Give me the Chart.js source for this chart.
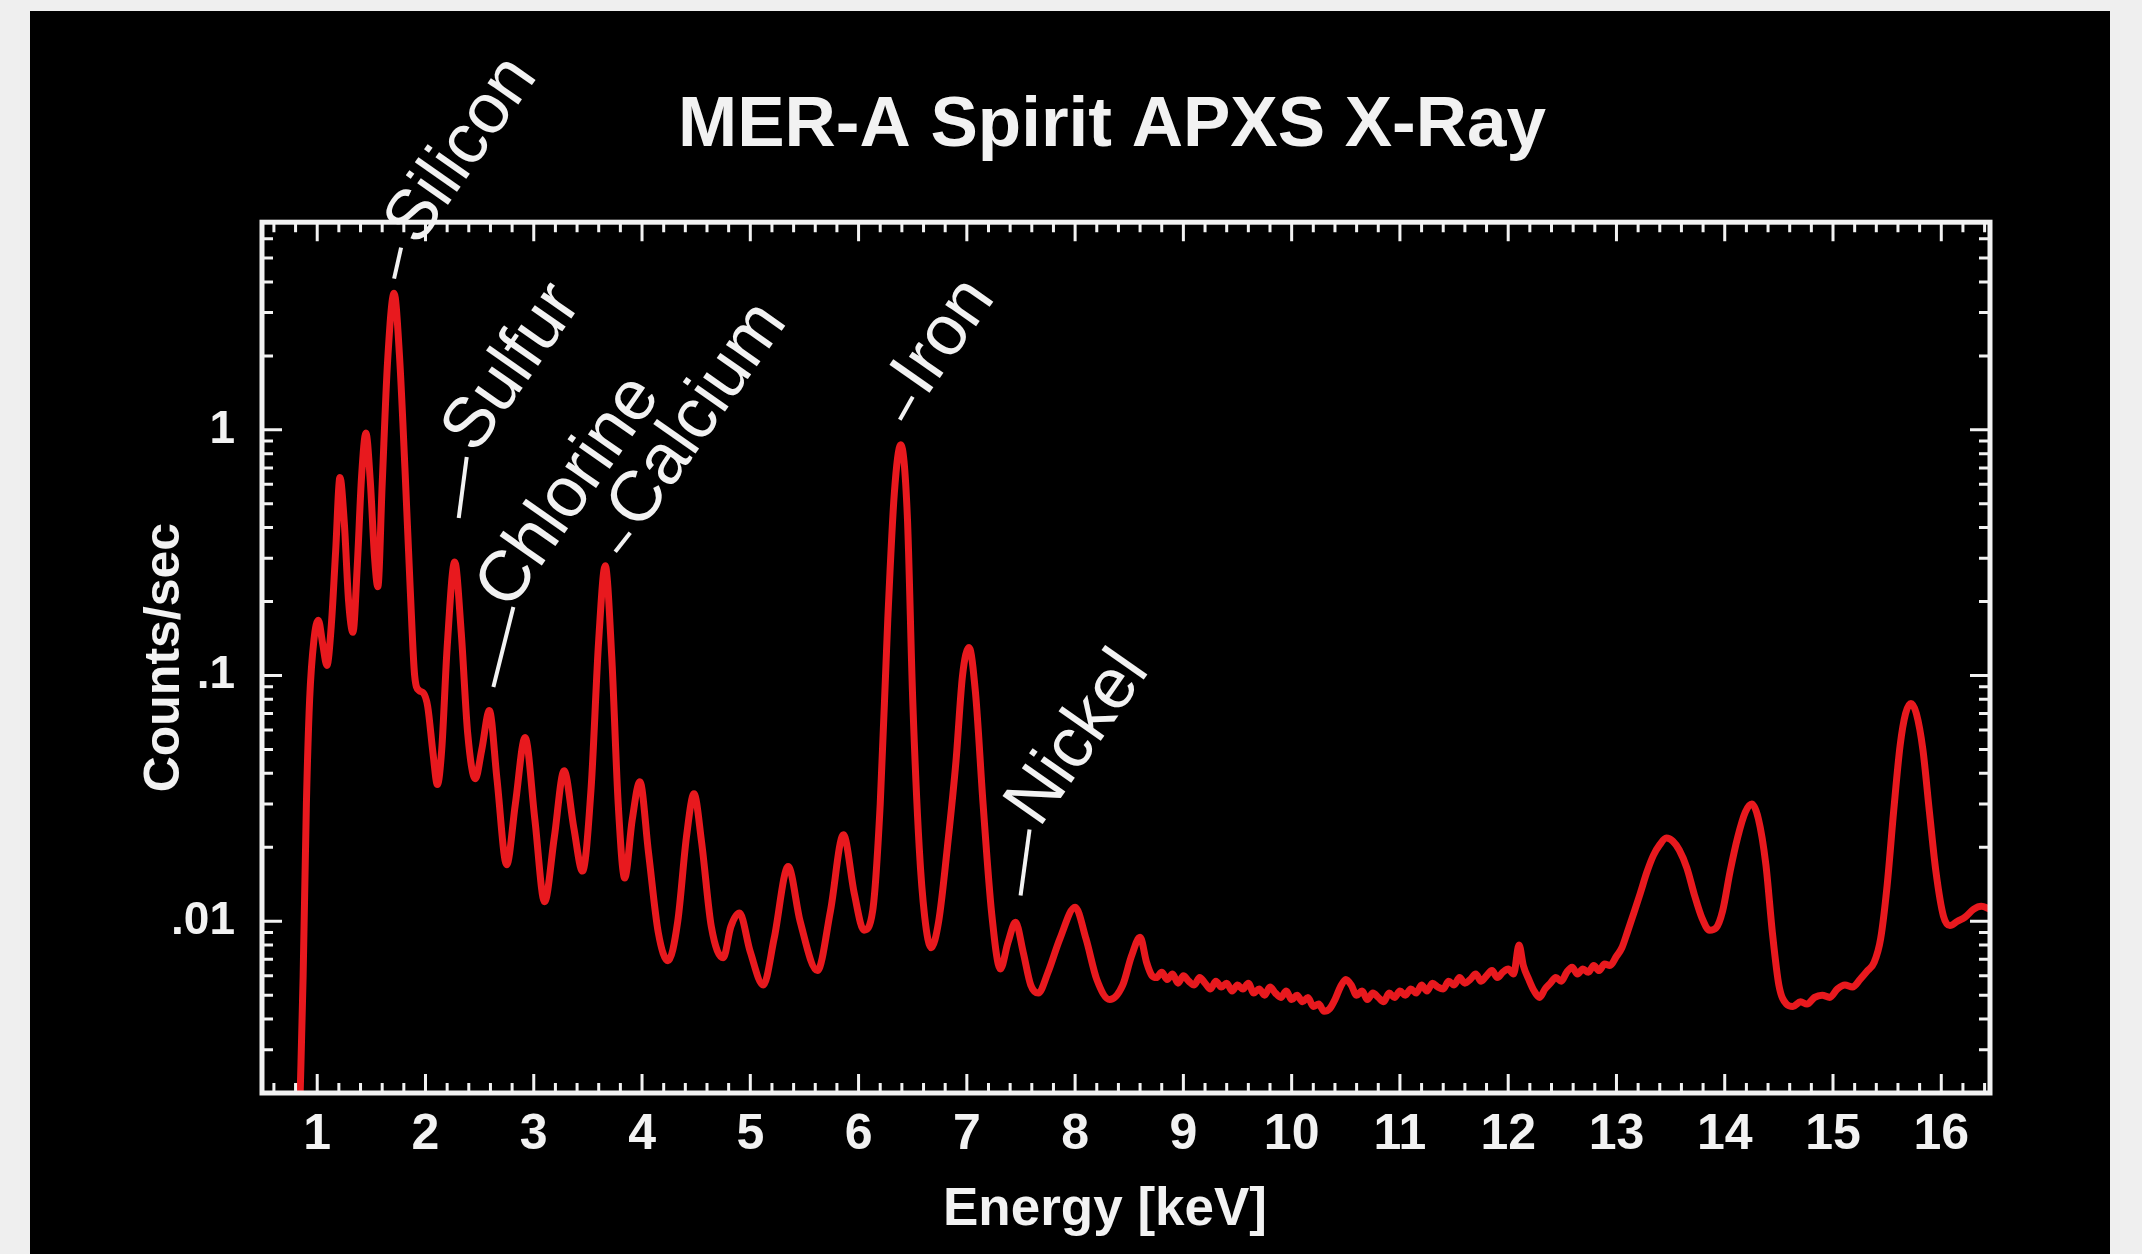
<!DOCTYPE html>
<html>
<head>
<meta charset="utf-8">
<script src="https://cdn.jsdelivr.net/npm/chart.js@4.4.0/dist/chart.umd.min.js"></script>
<style>
html,body{margin:0;padding:0;background:#efefef;overflow:hidden}
canvas{display:block}
</style>
</head>
<body>
<canvas id="c" width="2142" height="1254"></canvas>
<script>
// ---------------- DATA ----------------
const chartTitle = 'MER-A Spirit APXS X-Ray';
const xAxisTitle = 'Energy [keV]';
const yAxisTitle = 'Counts/sec';

const energyKeV = [
  0.84,0.87,0.90,0.93,0.97,1.01,1.05,1.09,1.13,1.17,1.21,1.25,1.29,1.33,1.37,1.41,1.45,1.49,1.53,1.56,
  1.60,1.65,1.71,1.76,1.81,1.86,1.90,1.94,1.98,2.02,2.07,2.11,2.15,2.20,2.27,2.33,2.39,2.46,2.52,2.59,
  2.66,2.75,2.83,2.92,3.01,3.10,3.19,3.28,3.37,3.45,3.53,3.60,3.66,3.72,3.78,3.84,3.91,3.98,4.06,4.15,
  4.24,4.33,4.41,4.48,4.55,4.64,4.75,4.82,4.90,5.00,5.12,5.22,5.35,5.46,5.62,5.74,5.86,5.96,6.05,6.13,
  6.20,6.27,6.33,6.39,6.45,6.50,6.56,6.61,6.67,6.74,6.82,6.90,6.96,7.02,7.08,7.15,7.23,7.31,7.38,7.45,
  7.52,7.59,7.66,7.75,7.86,8.00,8.10,8.20,8.32,8.44,8.52,8.60,8.66,8.71,
  8.75,8.80,8.85,8.90,8.95,9.00,9.05,9.10,9.15,9.20,9.25,9.30,9.35,9.40,9.45,9.50,9.55,9.60,9.65,9.70,
  9.75,9.80,9.85,9.90,9.95,10.00,10.05,10.10,10.15,10.20,10.25,10.30,10.35,10.40,10.45,10.50,10.55,10.60,10.65,10.70,
  10.75,10.80,10.85,10.90,10.95,11.00,11.05,11.10,11.15,11.20,11.25,11.30,11.35,11.40,11.45,11.50,11.55,11.60,11.65,11.70,
  11.75,11.80,11.85,11.90,11.95,12.00,12.05,12.10,12.14,12.19,12.24,12.29,12.34,12.39,12.44,12.49,12.54,12.59,12.64,12.69,
  12.74,12.79,12.84,12.89,12.94,13.00,13.05,13.10,13.16,13.22,13.28,13.34,13.40,13.46,13.52,13.58,13.65,13.72,13.79,13.86,
  13.92,13.98,14.05,14.12,14.19,14.25,14.31,14.38,14.44,14.50,14.57,14.63,14.70,14.76,14.83,14.90,14.97,15.04,15.11,15.18,
  15.25,15.32,15.38,15.44,15.50,15.56,15.62,15.67,15.72,15.77,15.83,15.89,15.95,16.02,16.08,16.15,16.22,16.30,16.37,16.45
];
const countsPerSec = [
  0.0018,0.006,0.03,0.08,0.14,0.168,0.135,0.11,0.16,0.32,0.64,0.42,0.2,0.15,0.28,0.65,0.97,0.62,0.3,0.23,
  0.6,1.9,3.6,2.0,0.7,0.22,0.1,0.087,0.085,0.075,0.048,0.036,0.05,0.13,0.29,0.15,0.058,0.038,0.05,0.072,
  0.038,0.017,0.03,0.056,0.026,0.012,0.022,0.041,0.024,0.016,0.035,0.14,0.28,0.12,0.03,0.015,0.026,0.037,0.019,0.009,
  0.0069,0.01,0.022,0.033,0.021,0.0095,0.0071,0.0095,0.0108,0.0075,0.0055,0.0085,0.0167,0.01,0.0063,0.011,0.0225,0.013,0.0092,0.011,
  0.03,0.17,0.55,0.87,0.45,0.08,0.02,0.0105,0.0078,0.01,0.02,0.045,0.1,0.13,0.085,0.03,0.0107,0.0064,0.0082,0.0099,
  0.0075,0.0055,0.0051,0.0062,0.0085,0.0114,0.0085,0.0058,0.0048,0.0055,0.0072,0.0086,0.0068,0.0060,
  0.0059,0.0062,0.0058,0.0061,0.0056,0.0060,0.0057,0.0055,0.0059,0.0056,0.0053,0.0057,0.0054,0.0056,0.0052,0.0055,0.0053,0.0056,0.0051,0.0053,
  0.0050,0.0054,0.0051,0.0049,0.0052,0.0048,0.0050,0.0047,0.0049,0.0045,0.0046,0.0043,0.0044,0.0048,0.0054,0.0058,0.0055,0.0050,0.0052,0.0048,
  0.0051,0.0049,0.0047,0.0051,0.0049,0.0052,0.0050,0.0053,0.0051,0.0055,0.0052,0.0056,0.0054,0.0053,0.0057,0.0055,0.0059,0.0056,0.0058,0.0061,
  0.0057,0.0060,0.0063,0.0059,0.0062,0.0064,0.0061,0.0080,0.0066,0.0058,0.0052,0.0049,0.0053,0.0056,0.0059,0.0057,0.0062,0.0065,0.0061,0.0064,
  0.0062,0.0066,0.0063,0.0067,0.0066,0.0072,0.0078,0.0090,0.0108,0.0130,0.0158,0.0185,0.0205,0.0218,0.0212,0.0195,0.0165,0.0128,0.0103,0.0092,
  0.0094,0.0110,0.0160,0.0220,0.0278,0.0300,0.0262,0.0170,0.0090,0.0055,0.0046,0.0045,0.0047,0.0046,0.0049,0.0050,0.0049,0.0053,0.0055,0.0054,
  0.0058,0.0063,0.0068,0.0085,0.0140,0.0280,0.0520,0.0700,0.0770,0.0700,0.0500,0.0280,0.0160,0.0105,0.0096,0.0100,0.0104,0.0112,0.0115,0.0112
];

const xTickValues = [1,2,3,4,5,6,7,8,9,10,11,12,13,14,15,16];
const yTickValues = [0.01, 0.1, 1];
const yTickLabels = ['.01', '.1', '1'];

const peakNames  = ['Silicon','Sulfur','Chlorine','Calcium','Iron','Nickel'];
const peakEnergy = [1.71, 2.27, 2.59, 3.66, 6.39, 7.45];
const peakCounts = [3.62, 0.29, 0.071, 0.28, 0.87, 0.0098];

// ---------------- STYLE ----------------
const FONT = "'Liberation Sans', Arial, Helvetica, sans-serif";
const WHITE = '#f2f2f2';
const RED = '#e8191e';
// leader line [x0,y0,x1,y1] and label centre [x,y], px offsets from the peak
const labelStyle = [
  {lead:[0,-14,7,-45],   text:[68,-142]},
  {lead:[4,-44,12,-105], text:[58,-194]},
  {lead:[4,-25,24,-105], text:[80,-220]},
  {lead:[10,-14,25,-33], text:[93,-150]},
  {lead:[-1,-25,12,-48], text:[44,-108]},
  {lead:[5,-28,14,-94],  text:[63,-185]}
];

const backdrop = {
  id: 'backdrop',
  beforeDraw(chart) {
    const c = chart.ctx;
    c.save();
    c.fillStyle = '#efefef';
    c.fillRect(0, 0, chart.width, chart.height);
    c.fillStyle = '#000000';
    c.fillRect(30, 11, 2080, chart.height - 11);
    c.restore();
  }
};

const frameTicks = {
  id: 'frameTicks',
  afterDatasetsDraw(chart) {
    const {ctx, chartArea: a, scales: {x, y}} = chart;
    ctx.save();
    ctx.strokeStyle = WHITE;
    ctx.lineWidth = 3;
    ctx.beginPath();
    const xt = (v, len) => {
      const p = x.getPixelForValue(v);
      ctx.moveTo(p, a.bottom); ctx.lineTo(p, a.bottom - len);
      ctx.moveTo(p, a.top); ctx.lineTo(p, a.top + len);
    };
    const yt = (v, len) => {
      const p = y.getPixelForValue(v);
      ctx.moveTo(a.left, p); ctx.lineTo(a.left + len, p);
      ctx.moveTo(a.right, p); ctx.lineTo(a.right - len, p);
    };
    for (let i = 0; i <= 100; i++) {
      const e = i / 5;
      if (e <= x.min || e >= x.max) continue;
      xt(e, i % 5 === 0 ? 19 : 10);
    }
    for (let k = -3; k <= 1; k++) {
      for (let m = 1; m <= 9; m++) {
        const v = m * Math.pow(10, k);
        if (v <= y.min || v >= y.max) continue;
        yt(v, m === 1 ? 20 : 11);
      }
    }
    ctx.stroke();
    ctx.lineWidth = 5;
    ctx.strokeRect(a.left, a.top, a.right - a.left, a.bottom - a.top);
    ctx.restore();
  }
};

const peakLabels = {
  id: 'peakLabels',
  afterDatasetsDraw(chart) {
    const {ctx, scales: {x, y}} = chart;
    ctx.save();
    ctx.strokeStyle = WHITE;
    ctx.fillStyle = WHITE;
    ctx.lineWidth = 4;
    ctx.font = '71px ' + FONT;
    ctx.textAlign = 'center';
    ctx.textBaseline = 'middle';
    peakNames.forEach((name, i) => {
      const px = x.getPixelForValue(peakEnergy[i]);
      const py = y.getPixelForValue(peakCounts[i]);
      const s = labelStyle[i];
      ctx.beginPath();
      ctx.moveTo(px + s.lead[0], py + s.lead[1]);
      ctx.lineTo(px + s.lead[2], py + s.lead[3]);
      ctx.stroke();
      ctx.save();
      ctx.translate(px + s.text[0], py + s.text[1]);
      ctx.rotate(-55 * Math.PI / 180);
      ctx.fillText(name, 0, 0);
      ctx.restore();
    });
    ctx.restore();
  }
};

const xTitle = {
  id: 'xTitle',
  afterDraw(chart) {
    const ctx = chart.ctx;
    ctx.save();
    ctx.fillStyle = WHITE;
    ctx.font = 'bold 53px ' + FONT;
    ctx.textAlign = 'center';
    ctx.textBaseline = 'middle';
    ctx.fillText(xAxisTitle, 1105, 1210);
    ctx.restore();
  }
};

new Chart(document.getElementById('c'), {
  type: 'line',
  data: {
    datasets: [{
      data: energyKeV.map((e, i) => ({x: e, y: countsPerSec[i]})),
      borderColor: RED,
      borderWidth: 7,
      pointRadius: 0,
      fill: false,
      cubicInterpolationMode: 'monotone',
      clip: 0
    }]
  },
  options: {
    responsive: false,
    animation: false,
    devicePixelRatio: 1,
    layout: {padding: {left: 112, right: 30, top: 0, bottom: 0}, autoPadding: false},
    plugins: {
      legend: {display: false},
      tooltip: {enabled: false},
      title: {
        display: true, text: chartTitle, color: WHITE,
        font: {family: FONT, size: 71, weight: 'bold', lineHeight: 1.2},
        padding: {top: 84, bottom: 53}
      }
    },
    scales: {
      x: {
        type: 'linear', min: 0.49, max: 16.45,
        grid: {display: false, drawTicks: false}, border: {display: false},
        afterBuildTicks: s => { s.ticks = xTickValues.map(v => ({value: v})); },
        afterFit: s => { s.height = 161; },
        ticks: {color: WHITE, font: {family: FONT, size: 50, weight: 'bold'}, padding: 12,
                maxRotation: 0, autoSkip: false, callback: v => String(v)}
      },
      y: {
        type: 'logarithmic', position: 'left', min: 0.002, max: 7,
        grid: {display: false, drawTicks: false}, border: {display: false},
        afterBuildTicks: s => { s.ticks = yTickValues.map(v => ({value: v})); },
        afterFit: s => { s.width = 150; },
        ticks: {color: WHITE, font: {family: FONT, size: 46, weight: 'bold'}, padding: 27,
                autoSkip: false, callback: v => { const i = yTickValues.indexOf(v); return i >= 0 ? yTickLabels[i] : ''; }},
        title: {display: true, text: yAxisTitle, color: WHITE,
                font: {family: FONT, size: 50, weight: 'bold', lineHeight: 1.2}, padding: {top: 23, bottom: 0}}
      },
      y2: {
        type: 'logarithmic', position: 'right', min: 0.002, max: 7,
        grid: {display: false, drawTicks: false}, border: {display: false},
        ticks: {display: false},
        afterFit: s => { s.width = 122; }
      }
    }
  },
  plugins: [backdrop, frameTicks, peakLabels, xTitle]
});
</script>
</body>
</html>
